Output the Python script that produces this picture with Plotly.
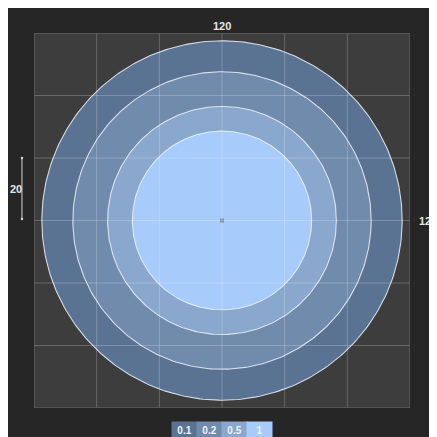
import numpy as np
import plotly.graph_objects as go

# ---- data ----
levels = ["0.1", "0.2", "0.5", "1"]
radii = [57.5, 47.6, 36.5, 28.6]          # contour radius (units)
center = [60, 60]
ring_colors = ["#5b7392", "#718bad", "#8aa7cd", "#a7cbfa"]
grid_ticks = [0, 20, 40, 60, 80, 100, 120]
size_label = "120"
scale_len = 20
scale_label = "20"

fig = go.Figure()

theta = np.linspace(0, 2 * np.pi, 361)
for lev, r, c in zip(levels, radii, ring_colors):
    fig.add_trace(go.Scatter(
        x=center[0] + r * np.cos(theta),
        y=center[1] + r * np.sin(theta),
        mode="lines", fill="toself", fillcolor=c,
        line=dict(color="rgba(235,242,250,0.85)", width=1.1),
        hoverinfo="skip", showlegend=False, name=lev))

# center marker
fig.add_trace(go.Scatter(x=[center[0]], y=[center[1]], mode="markers",
                         marker=dict(symbol="square", size=4, color="#7f8fa3"),
                         showlegend=False, hoverinfo="skip"))

shapes = []
for t in grid_ticks[1:-1]:
    shapes.append(dict(type="line", xref="x", yref="y", x0=t, x1=t, y0=0, y1=120,
                       line=dict(color="rgba(255,255,255,0.22)", width=1), layer="above"))
    shapes.append(dict(type="line", xref="x", yref="y", x0=0, x1=120, y0=t, y1=t,
                       line=dict(color="rgba(255,255,255,0.22)", width=1), layer="above"))
shapes.append(dict(type="rect", xref="x", yref="y", x0=0, x1=120, y0=0, y1=120,
                   line=dict(color="#5c5c5c", width=1.5), layer="above"))

annotations = [
    dict(text="<b>%s</b>" % size_label, xref="paper", yref="paper", x=0.5, y=1,
         yanchor="bottom", xanchor="center", showarrow=False, yshift=-1,
         font=dict(family="Liberation Sans", size=11, color="#e6e6e6")),
    dict(text="<b>%s</b>" % size_label, xref="paper", yref="paper", x=1, y=0.5,
         yanchor="middle", xanchor="left", showarrow=False, xshift=7,
         font=dict(family="Liberation Sans", size=11, color="#e6e6e6")),
    dict(text="<b>%s</b>" % scale_label, xref="paper", yref="y", x=-26 / 376,
         y=center[1] + scale_len / 2,
         yanchor="middle", xanchor="left", showarrow=False,
         font=dict(family="Liberation Sans", size=11, color="#e6e6e6")),
    # scale bar
    dict(text="", xref="paper", yref="y", x=-0.032, y=center[1] + scale_len,
         axref="pixel", ayref="y", ax=0, ay=center[1],
         showarrow=True, arrowside="end+start", arrowhead=6, startarrowhead=6,
         arrowsize=0.6, startarrowsize=0.6, arrowwidth=1, arrowcolor="#d8d8d8"),
]

box_w = 25
x_start = 172
for i, (lev, c) in enumerate(zip(levels, ring_colors)):
    cx = x_start + box_w * i + box_w / 2
    annotations.append(dict(
        text="<b>%s</b>" % lev, xref="paper", yref="paper",
        x=(cx - 34) / 376, y=(408 - 421) / 375, xanchor="center", yanchor="top",
        showarrow=False, width=box_w, height=17, bgcolor=c, borderpad=0,
        font=dict(family="Liberation Sans", size=10, color="#eef3f9")))

fig.update_layout(
    width=429, height=429,
    margin=dict(l=26, r=27, t=25, b=29),
    paper_bgcolor="#262626", plot_bgcolor="#3d3d3d",
    xaxis=dict(range=[0, 120], showgrid=False, zeroline=False,
               showticklabels=False, ticks="", fixedrange=True),
    yaxis=dict(range=[0, 120], showgrid=False, zeroline=False,
               showticklabels=False, ticks="", fixedrange=True),
    shapes=shapes, annotations=annotations, showlegend=False,
)

fig.write_html("out.html", config={"displayModeBar": False})
